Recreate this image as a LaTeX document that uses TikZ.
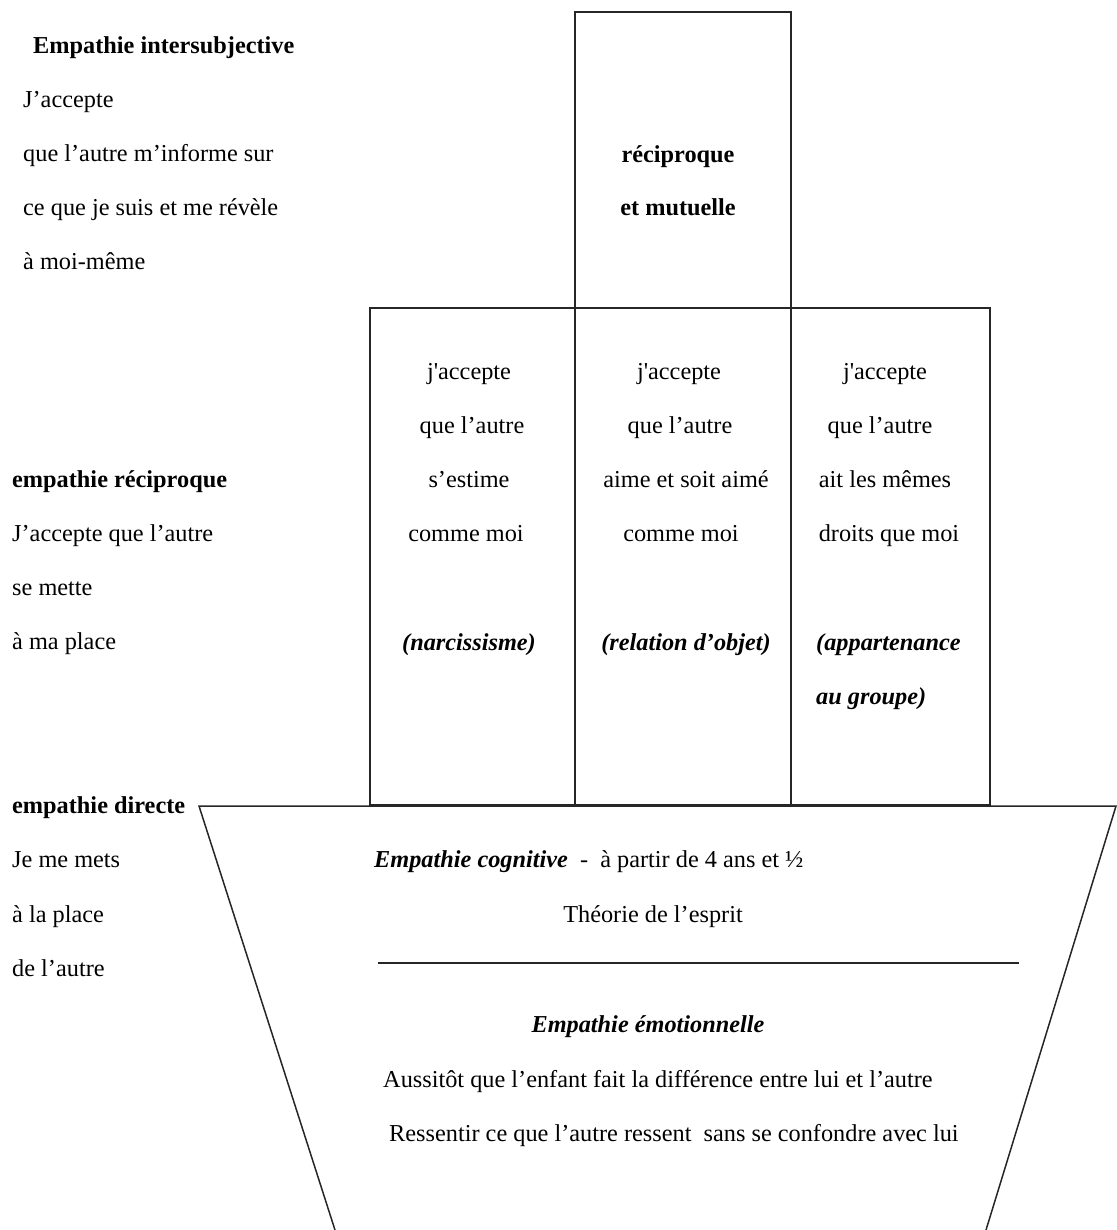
\documentclass[tikz,border=0pt]{standalone}
\usepackage{fontspec}
\setmainfont{Liberation Serif}
\newfontfamily\plainf{Liberation Serif}
\newcommand{\sq}{{\plainf'}}
\begin{document}
\begin{tikzpicture}[x=1pt,y=-1pt,
  every node/.style={font=\fontsize{24.3}{28}\selectfont, inner sep=0pt},
  box/.style={line width=1.5pt, black!85},
  lbl/.style={anchor=mid west},
  ctr/.style={anchor=mid},
  hd/.style={font=\fontsize{24.3}{28}\selectfont\bfseries},
  it/.style={font=\fontsize{24.3}{28}\selectfont\bfseries\itshape}]
\useasboundingbox (0,0) rectangle (1116,1230);
% boxes
\draw[box] (575,12) rectangle (791,308);
\draw[box] (370,308) rectangle (990,805);
\draw[box] (575,308) -- (575,805);
\draw[box] (791,308) -- (791,805);
% trapezoid
\draw[box] (335,1230) -- (199,806) -- (1116,806) -- (986,1230);
\draw[box] (378,963) -- (1019,963);
\begin{scope}[yshift=-6pt]
% left column
\node[lbl,hd] (l1) at (33,45) {Empathie intersubjective};
\node[lbl] (l2) at (23,99) {J'accepte};
\node[lbl] (l3) at (23,153) {que l'autre m'informe sur};
\node[lbl] (l4) at (23,207) {ce que je suis et me révèle};
\node[lbl] (l5) at (23,261) {à moi-même};
\node[lbl,hd] (m1) at (12,479) {empathie réciproque};
\node[lbl] (m2) at (12,533) {J'accepte que l'autre};
\node[lbl] (m3) at (12,587) {se mette};
\node[lbl] (m4) at (12,641) {à ma place};
\node[lbl,hd] (d1) at (12,805) {empathie directe};
\node[lbl] (d2) at (12,859) {Je me mets};
\node[lbl] (d3) at (12,914) {à la place};
\node[lbl] (d4) at (12,968) {de l'autre};
% top box
\node[ctr,hd] (t1) at (678,154) {réciproque};
\node[ctr,hd] (t2) at (678,207) {et mutuelle};
% column 1
\node[ctr] (a1) at (469,371) {j\sq accepte};
\node[ctr] (a2) at (472,425) {que l'autre};
\node[ctr] (a3) at (469,479) {s'estime};
\node[ctr] (a4) at (466,533) {comme moi};
\node[ctr,it] (a5) at (469,642) {(narcissisme)};
% column 2
\node[ctr] (b1) at (679,371) {j\sq accepte};
\node[ctr] (b2) at (680,425) {que l'autre};
\node[ctr] (b3) at (686,479) {aime et soit aimé};
\node[ctr] (b4) at (681,533) {comme moi};
\node[ctr,it] (b5) at (686,642) {(relation d'objet)};
% column 3
\node[ctr] (c1) at (885,371) {j\sq accepte};
\node[ctr] (c2) at (880,425) {que l'autre};
\node[ctr] (c3) at (885,479) {ait les mêmes};
\node[ctr] (c4) at (889,533) {droits que moi};
\node[lbl,it] (c5) at (816,642) {(appartenance};
\node[lbl,it] (c6) at (816,696) {au groupe)};
% trapezoid text
\node[lbl] (e1) at (374,859) {\textbf{\textit{Empathie cognitive}}\ \ -\ \ à partir de 4 ans et ½};
\node[ctr] (e2) at (653,914) {Théorie de l'esprit};
\node[ctr,it] (e3) at (648,1024) {Empathie émotionnelle};
\node[lbl] (e4) at (383,1079) {Aussitôt que l'enfant fait la différence entre lui et l'autre};
\node[lbl] (e5) at (389,1133) {Ressentir ce que l'autre ressent\ \ sans se confondre avec lui};
\end{scope}
\end{tikzpicture}
\end{document}
